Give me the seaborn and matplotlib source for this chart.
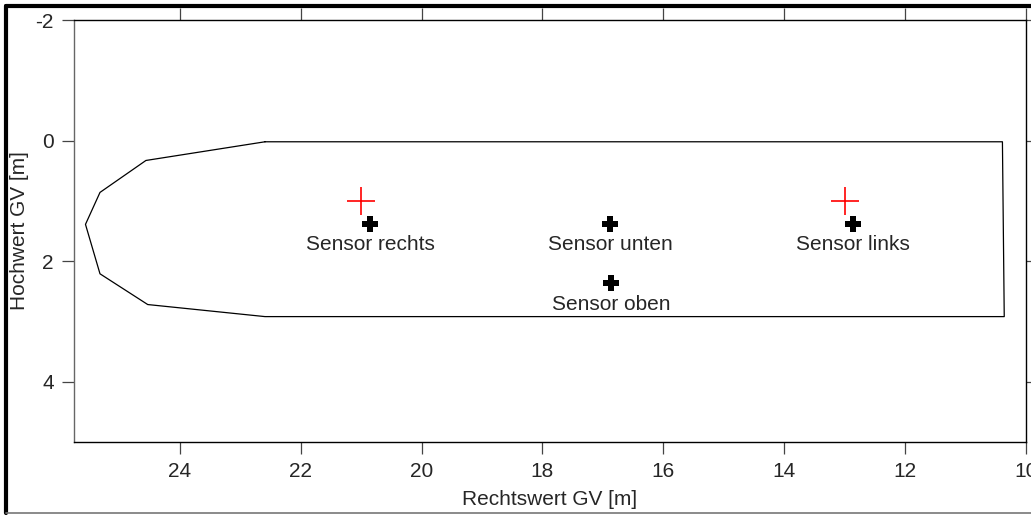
import matplotlib
matplotlib.use("Agg")
import matplotlib.pyplot as plt
import seaborn as sns
import pandas as pd
from matplotlib.lines import Line2D

# outline of the vessel (Rechtswert, Hochwert in m)
outline_x = [22.59, 10.39, 10.36, 22.59, 24.53, 25.32, 25.56, 25.32, 24.56, 22.59]
outline_y = [0.02, 0.02, 2.92, 2.92, 2.72, 2.21, 1.39, 0.86, 0.33, 0.02]

# reference points (red crosses)
ref_x = [21.0, 13.0]
ref_y = [1.0, 1.0]

# sensors
sensor_names = ["Sensor rechts", "Sensor unten", "Sensor links", "Sensor oben"]
sensor_x = [20.85, 16.88, 12.86, 16.86]
sensor_y = [1.38, 1.38, 1.38, 2.37]

x_ticks = [24, 22, 20, 18, 16, 14, 12, 10]
y_ticks = [-2, 0, 2, 4]

sns.set_style("ticks")
plt.rcParams["font.family"] = ["Liberation Sans", "DejaVu Sans"]
plt.rcParams["axes.unicode_minus"] = False

fig = plt.figure(figsize=(10.31, 5.15), dpi=100)
ax = fig.add_axes([74 / 1031, 73 / 515, 952 / 1031, 422 / 515])

outline = pd.DataFrame({"x": outline_x, "y": outline_y})
ax.plot(outline["x"], outline["y"], color="black", lw=0.9)

refs = pd.DataFrame({"x": ref_x, "y": ref_y})
sns.scatterplot(data=refs, x="x", y="y", marker="+", s=420, color="red",
                linewidth=1.2, ax=ax, zorder=3)

sensors = pd.DataFrame({"name": sensor_names, "x": sensor_x, "y": sensor_y})
sns.scatterplot(data=sensors, x="x", y="y", marker="P", s=120, color="black",
                linewidth=0, ax=ax, zorder=3)
for _, r in sensors.iterrows():
    ax.annotate(r["name"], (r["x"], r["y"]), xytext=(0, -8),
                textcoords="offset points", ha="center", va="top", fontsize=15)

ax.set_xlim(25.75, 10)
ax.set_ylim(5, -2)
ax.set_xticks(x_ticks)
ax.set_yticks(y_ticks)
ax.tick_params(direction="out", length=8.5, width=0.9, labelsize=15, pad=6,
               top=True, right=True, labeltop=False, labelright=False,
               color="#444444")
for s in ax.spines.values():
    s.set_visible(True)
    s.set_linewidth(1.0)
    s.set_color("black")
ax.spines["left"].set_color("#666666")

ax.set_xlabel("Rechtswert GV [m]", fontsize=15)
ax.set_ylabel("Hochwert GV [m]", fontsize=15)
ax.xaxis.set_label_coords(0.5, -0.113)
ax.yaxis.set_label_coords(-0.047, 0.5)

# outer frame of the figure
fig.add_artist(Line2D([6 / 1031, 6 / 1031], [2 / 515, 509 / 515], color="black", lw=3))
fig.add_artist(Line2D([6 / 1031, 1], [509 / 515, 509 / 515], color="black", lw=3))
fig.add_artist(Line2D([6 / 1031, 1], [2 / 515, 2 / 515], color="#777777", lw=1.2))

fig.savefig("out.png", dpi=100)
